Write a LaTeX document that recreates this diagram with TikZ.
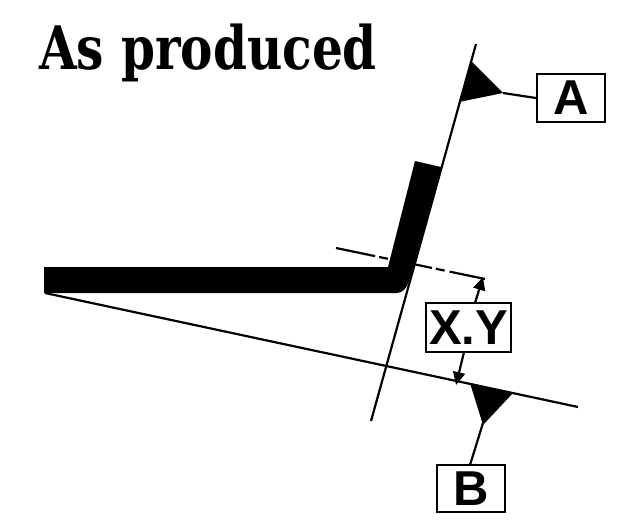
\documentclass[tikz,border=0pt]{standalone}
\usepackage{fontspec}
\setmainfont{Liberation Sans}
\newfontfamily\titlefont{DejaVu Serif}
\usetikzlibrary{arrows.meta}
\tikzset{
  thinline/.style={line width=2.2pt,black},
  labelbox/.style={draw=black,line width=2.2pt,fill=white,inner sep=0pt,font=\fontsize{49}{49}\selectfont\bfseries},
  dimarrow/.style={line width=2.2pt,-{Triangle[length=13pt,width=12pt]}},
}
\begin{document}
\begin{tikzpicture}[x=1pt,y=-1pt]
\useasboundingbox (0,0) rectangle (634,522);
\fill[white] (0,0) rectangle (634,522);
% title
\node[anchor=base west,inner sep=0pt,font=\titlefont\bfseries\fontsize{60}{60}\selectfont,xscale=0.81] (title) at (39,69) {As produced};
% reference lines
\coordinate (lineAtop) at (476,44);
\coordinate (lineAbot) at (371,421);
\coordinate (lineBstart) at (45,293);
\coordinate (lineBend) at (578,407);
\coordinate (cstart) at (336,248);
\coordinate (cend) at (485,279);
\draw[thinline] (lineAtop) -- (lineAbot);
\draw[thinline] (lineBstart) -- (lineBend);
\draw[line width=2.2pt,dash pattern=on 40pt off 4pt on 9pt off 5pt] (cstart) -- (cend);
% plate
\fill[black] (44,267) -- (388,267) -- (415,161) -- (441,167) -- (409,281)
  .. controls (406,289) and (403,293) .. (396,293) -- (44,293) -- cycle;
% weld triangles
\fill[black] (472,62) -- (503,93) -- (459,102) -- cycle;
\fill[black] (470,383) -- (513,393) -- (483,425) -- cycle;
\coordinate (tipA) at (503,93);
\coordinate (tipB) at (483,423);
% boxes
\node[labelbox,minimum width=68pt,minimum height=48pt] (A) at (571,98) {A};
\node[labelbox,minimum width=68pt,minimum height=47pt] (B) at (471,488.5) {B};
\node[labelbox,minimum width=85pt,minimum height=49pt] (XY) at (468.5,327.5) {X.Y};
% connectors
\draw[thinline] (tipA) -- (A.west |- 0,98);
\draw[thinline] (tipB) -- (470,465);
\coordinate (upfoot) at (475,303);
\coordinate (uptip) at (483,277);
\coordinate (downfoot) at (464,352);
\coordinate (downtip) at (456,385);
\draw[dimarrow] (upfoot) -- (uptip);
\draw[dimarrow] (downfoot) -- (downtip);
\end{tikzpicture}
\end{document}
